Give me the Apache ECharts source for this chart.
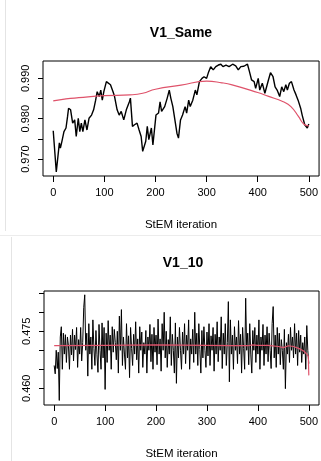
<!DOCTYPE html>
<html>
<head>
<meta charset="utf-8">
<script src="https://cdn.jsdelivr.net/npm/echarts@6/dist/echarts.min.js"></script>
<style>
  html, body { margin: 0; padding: 0; background: #fff; }
  #chart { width: 321px; height: 461px; }
</style>
</head>
<body>
<div id="chart"></div>
<script>
// V1_Same trace: iteration / value pairs
var itSame = [0,6,12,14,17,21,25,28,30,34,38,42,45,49,52,55,58,62,66,70,
  75,79,83,86,90,93,96,99,104,107,112,117,120,125,129,133,138,143,149,151,
  155,159,164,168,172,175,181,184,187,192,195,198,201,206,209,212,218,223,227,230,
  234,239,242,245,249,253,258,261,265,268,273,278,281,286,291,295,300,304,308,313,
  318,323,328,332,338,344,351,357,362,367,373,380,384,388,393,396,401,404,409,414,
  417,421,425,430,434,438,443,447,451,455,458,462,466,471,475,479,484,487,492,497,500];
var v1Same = [0.9770,0.9668,0.9740,0.9727,0.9744,0.9768,0.9777,0.9805,0.9826,0.9822,
  0.9789,0.9797,0.9756,0.9801,0.9768,0.9789,0.9768,0.9797,0.9772,0.9801,
  0.9809,0.9822,0.9846,0.9867,0.9855,0.9871,0.9846,0.9867,0.9892,0.9892,
  0.9884,0.9867,0.9855,0.9822,0.9809,0.9818,0.9797,0.9822,0.9842,0.9851,
  0.9781,0.9785,0.9789,0.9772,0.9756,0.9719,0.9744,0.9781,0.9748,0.9777,
  0.9735,0.9772,0.9809,0.9814,0.9842,0.9818,0.9830,0.9851,0.9871,0.9851,
  0.9830,0.9789,0.9764,0.9752,0.9797,0.9809,0.9830,0.9814,0.9846,0.9830,
  0.9846,0.9871,0.9859,0.9892,0.9900,0.9904,0.9900,0.9916,0.9929,0.9921,
  0.9929,0.9933,0.9935,0.9929,0.9933,0.9929,0.9935,0.9931,0.9921,0.9929,
  0.9930,0.9935,0.9916,0.9896,0.9892,0.9875,0.9900,0.9871,0.9888,0.9863,
  0.9859,0.9896,0.9914,0.9904,0.9879,0.9871,0.9855,0.9879,0.9867,0.9884,
  0.9871,0.9888,0.9892,0.9871,0.9859,0.9846,0.9826,0.9809,0.9785,0.9777,0.9787];
// red smoother for V1_Same
var itSameFit = [0,25,50,100,150,175,200,250,300,330,350,400,420,450,465,480,490,500];
var fitSame = [0.9844,0.9849,0.9852,0.9857,0.9859,0.9863,0.9873,0.9883,0.9893,0.9889,
  0.9884,0.9865,0.9856,0.9842,0.9830,0.9805,0.9787,0.9782];

// V1_10 trace, every 2nd iteration (0, 2, ... 500)
var stepTen = 2;
var v1Ten = [
  0.4660,0.4638,0.4700,0.4652,0.4695,0.4568,0.4735,0.4762,0.4650,0.4745,
  0.4690,0.4741,0.4668,0.4735,0.4712,0.4650,0.4740,0.4688,0.4755,0.4672,
  0.4740,0.4702,0.4760,0.4655,0.4728,0.4690,0.4760,0.4672,0.4720,0.4812,
  0.4846,0.4700,0.4745,0.4632,0.4770,0.4690,0.4735,0.4650,0.4780,0.4705,
  0.4660,0.4752,0.4688,0.4642,0.4768,0.4700,0.4650,0.4772,0.4680,0.4760,
  0.4597,0.4745,0.4668,0.4778,0.4700,0.4740,0.4650,0.4762,0.4695,0.4755,
  0.4720,0.4675,0.4750,0.4640,0.4790,0.4700,0.4807,0.4660,0.4735,0.4690,
  0.4650,0.4770,0.4680,0.4738,0.4628,0.4760,0.4705,0.4660,0.4742,0.4690,
  0.4775,0.4675,0.4730,0.4640,0.4762,0.4700,0.4748,0.4655,0.4720,0.4690,
  0.4752,0.4640,0.4735,0.4700,0.4768,0.4670,0.4742,0.4650,0.4760,0.4695,
  0.4740,0.4662,0.4782,0.4690,0.4730,0.4645,0.4770,0.4700,0.4800,0.4680,
  0.4750,0.4655,0.4728,0.4690,0.4788,0.4660,0.4742,0.4700,0.4640,0.4772,
  0.4613,0.4735,0.4680,0.4760,0.4700,0.4650,0.4748,0.4690,0.4770,0.4665,
  0.4740,0.4700,0.4780,0.4650,0.4730,0.4690,0.4755,0.4668,0.4800,0.4690,
  0.4745,0.4660,0.4770,0.4702,0.4640,0.4752,0.4680,0.4762,0.4700,0.4655,
  0.4748,0.4685,0.4770,0.4660,0.4738,0.4700,0.4760,0.4645,0.4742,0.4690,
  0.4775,0.4670,0.4735,0.4700,0.4788,0.4652,0.4745,0.4690,0.4770,0.4660,
  0.4720,0.4828,0.4617,0.4780,0.4690,0.4740,0.4650,0.4762,0.4700,0.4735,
  0.4665,0.4778,0.4690,0.4742,0.4640,0.4760,0.4705,0.4650,0.4837,0.4700,
  0.4745,0.4662,0.4770,0.4690,0.4640,0.4752,0.4700,0.4760,0.4668,0.4740,
  0.4690,0.4780,0.4650,0.4735,0.4700,0.4768,0.4660,0.4740,0.4690,0.4762,
  0.4670,0.4745,0.4700,0.4652,0.4770,0.4815,0.4680,0.4740,0.4655,0.4760,
  0.4690,0.4745,0.4662,0.4728,0.4700,0.4650,0.4755,0.4599,0.4720,0.4690,
  0.4742,0.4668,0.4760,0.4700,0.4735,0.4680,0.4770,0.4690,0.4745,0.4660,
  0.4752,0.4695,0.4740,0.4668,0.4720,0.4690,0.4735,0.4650,0.4765,0.4700,
  0.4665];
var itTenFit = [0,100,200,300,350,380,390,400,420,440,450,460,470,480,490,496,499,500];
var fitTen = [0.4712,0.4713,0.4714,0.4713,0.4712,0.4712,0.4714,0.4713,0.4713,0.4710,
  0.4707,0.4712,0.4710,0.4705,0.4698,0.4690,0.4684,0.4634];

// axis ticks
var xTicks = [0, 100, 200, 300, 400, 500];
var ySameTicks = [0.970, 0.975, 0.980, 0.985, 0.990];
var ySameLabels = [0.970, 0.980, 0.990];
var yTenTicks = [0.460, 0.465, 0.470, 0.475, 0.480, 0.485];
var yTenLabels = [0.460, 0.475];

function pairs(xs, ys) {
  return ys.map(function (v, i) { return [xs[i], v]; });
}

var font = 'Liberation Sans, Arial, sans-serif';
var chart = echarts.init(document.getElementById('chart'));

function xAxisFor(gridIndex) {
  return {
    type: 'value', gridIndex: gridIndex, min: -20, max: 520,
    splitLine: { show: false },
    axisLine: { show: false, onZero: false },
    axisTick: { show: true, length: 6, customValues: xTicks, lineStyle: { color: '#000' } },
    axisLabel: { customValues: xTicks, margin: 11, color: '#000', fontSize: 11, fontFamily: font },
    name: 'StEM iteration', nameLocation: 'middle', nameGap: 43,
    nameTextStyle: { color: '#000', fontSize: 11.5, fontFamily: font }
  };
}
function yAxisFor(gridIndex, min, max, ticks, labels) {
  return {
    type: 'value', gridIndex: gridIndex, min: min, max: max,
    splitLine: { show: false },
    axisLine: { show: false, onZero: false },
    axisTick: { show: true, length: 5, customValues: ticks, lineStyle: { color: '#000' } },
    axisLabel: {
      customValues: labels, rotate: 90, margin: 12, color: '#000', fontSize: 11, fontFamily: font,
      formatter: function (v) { return v.toFixed(3); }
    }
  };
}

chart.setOption({
  animation: false,
  backgroundColor: '#fff',
  grid: [
    { left: 43, top: 61, right: 1, height: 115, show: true, borderColor: '#000', borderWidth: 1, backgroundColor: 'transparent' },
    { left: 44, top: 291, right: 1, height: 115, show: true, borderColor: '#000', borderWidth: 1, backgroundColor: 'transparent' }
  ],
  xAxis: [xAxisFor(0), xAxisFor(1)],
  yAxis: [
    yAxisFor(0, 0.9658, 0.9943, ySameTicks, ySameLabels),
    yAxisFor(1, 0.4556, 0.4856, yTenTicks, yTenLabels)
  ],
  graphic: [
    { type: 'line', shape: { x1: 5.5, y1: 0, x2: 5.5, y2: 231 }, style: { stroke: '#e4e4e4', lineWidth: 1 } },
    { type: 'line', shape: { x1: 0, y1: 235.5, x2: 321, y2: 235.5 }, style: { stroke: '#ececec', lineWidth: 1 } },
    { type: 'line', shape: { x1: 11.5, y1: 237, x2: 11.5, y2: 461 }, style: { stroke: '#e4e4e4', lineWidth: 1 } },
    { type: 'text', x: 181, y: 33, style: { text: 'V1_Same', align: 'center', verticalAlign: 'middle', fontSize: 14, fontWeight: 'bold', fontFamily: font, fill: '#000' } },
    { type: 'text', x: 183, y: 263, style: { text: 'V1_10', align: 'center', verticalAlign: 'middle', fontSize: 14, fontWeight: 'bold', fontFamily: font, fill: '#000' } }
  ],
  series: [
    {
      type: 'line', xAxisIndex: 0, yAxisIndex: 0, showSymbol: false,
      data: pairs(itSame, v1Same), lineStyle: { color: '#000', width: 1.4 }
    },
    {
      type: 'line', xAxisIndex: 0, yAxisIndex: 0, showSymbol: false, smooth: true,
      data: pairs(itSameFit, fitSame), lineStyle: { color: '#DF536B', width: 1.2 }
    },
    {
      type: 'line', xAxisIndex: 1, yAxisIndex: 1, showSymbol: false,
      data: v1Ten.map(function (v, i) { return [i * stepTen, v]; }), lineStyle: { color: '#000', width: 1 }
    },
    {
      type: 'line', xAxisIndex: 1, yAxisIndex: 1, showSymbol: false,
      data: pairs(itTenFit, fitTen), lineStyle: { color: '#DF536B', width: 1.2 }
    }
  ]
});
</script>
</body>
</html>
